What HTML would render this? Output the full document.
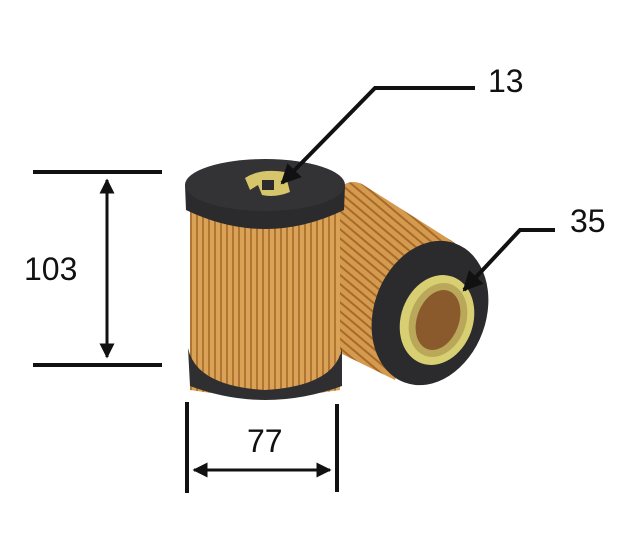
<!DOCTYPE html>
<html><head><meta charset="utf-8"><style>
html,body{margin:0;padding:0;background:#fff;}
svg{display:block;}
text{font-family:"Liberation Sans",sans-serif;fill:#111;}
</style></head><body>
<svg width="640" height="548" viewBox="0 0 640 548" xmlns="http://www.w3.org/2000/svg">
<defs>
<pattern id="pleatV" width="6" height="10" patternUnits="userSpaceOnUse">
<rect width="6" height="10" fill="#d9a257"/><rect x="4" width="2" height="10" fill="#b07532"/>
</pattern>
<pattern id="pleatD" width="7" height="7" patternUnits="userSpaceOnUse" patternTransform="rotate(40)">
<rect width="7" height="7" fill="#d49a4e"/><rect y="5" width="7" height="2" fill="#a86a2a"/>
</pattern>
<marker id="ah" viewBox="0 0 10 10" refX="9" refY="5" markerWidth="5" markerHeight="5" orient="auto-start-reverse">
<path d="M0,0 L10,5 L0,10 z" fill="#111"/></marker>
</defs>

<!-- back filter body -->
<path d="M338,190 Q348,178 362,184 L455,243 L395,380 L338,352 Z" fill="url(#pleatD)"/>
<!-- back filter end face -->
<ellipse cx="430" cy="313" rx="56" ry="74" transform="rotate(20 430 313)" fill="#2b2b2d"/>
<ellipse cx="437" cy="320" rx="36" ry="46" transform="rotate(20 437 320)" fill="#d8cf73"/>
<ellipse cx="438" cy="320" rx="28" ry="38" transform="rotate(20 438 320)" fill="#b9a85a"/>
<ellipse cx="438" cy="320" rx="21" ry="31" transform="rotate(20 438 320)" fill="#8a5a2c"/>

<!-- front filter -->
<path d="M190,205 L340,205 L340,390 Q265,402 190,390 Z" fill="url(#pleatV)"/>
<path d="M188,348 L190,386 Q265,414 342,386 L342,348 Q335,386 265,390 Q196,386 188,348 Z" fill="#2f2f31"/>
<path d="M185,185 L186,210 Q265,248 344,210 L345,185 Z" fill="#2b2b2d"/>
<ellipse cx="265" cy="185" rx="80" ry="26" fill="#333336"/>
<!-- center clip -->
<path d="M245,178 Q260,168 285,172 L290,192 Q275,198 262,195 L258,185 L250,190 Z" fill="#d6c56a"/>
<rect x="262" y="180" width="12" height="10" fill="#2b2b2d"/>

<!-- dimension: height -->
<line x1="33" y1="172" x2="162" y2="172" stroke="#111" stroke-width="4"/>
<line x1="33" y1="365" x2="162" y2="365" stroke="#111" stroke-width="4"/>
<line x1="107" y1="180" x2="107" y2="357" stroke="#111" stroke-width="3" marker-start="url(#ah)" marker-end="url(#ah)"/>
<text x="24" y="280" font-size="32">103</text>

<!-- dimension: width -->
<line x1="187" y1="402" x2="187" y2="493" stroke="#111" stroke-width="4"/>
<line x1="337" y1="404" x2="337" y2="492" stroke="#111" stroke-width="4"/>
<line x1="194" y1="470" x2="330" y2="470" stroke="#111" stroke-width="3" marker-start="url(#ah)" marker-end="url(#ah)"/>
<text x="247" y="452" font-size="32">77</text>

<!-- leader 13 -->
<polyline points="475,88 375,88 282,183" fill="none" stroke="#111" stroke-width="4" marker-end="url(#ah)"/>
<text x="488" y="92" font-size="32">13</text>

<!-- leader 35 -->
<polyline points="555,230 520,230 464,290" fill="none" stroke="#111" stroke-width="4" marker-end="url(#ah)"/>
<text x="570" y="232" font-size="32">35</text>
</svg>
</body></html>
